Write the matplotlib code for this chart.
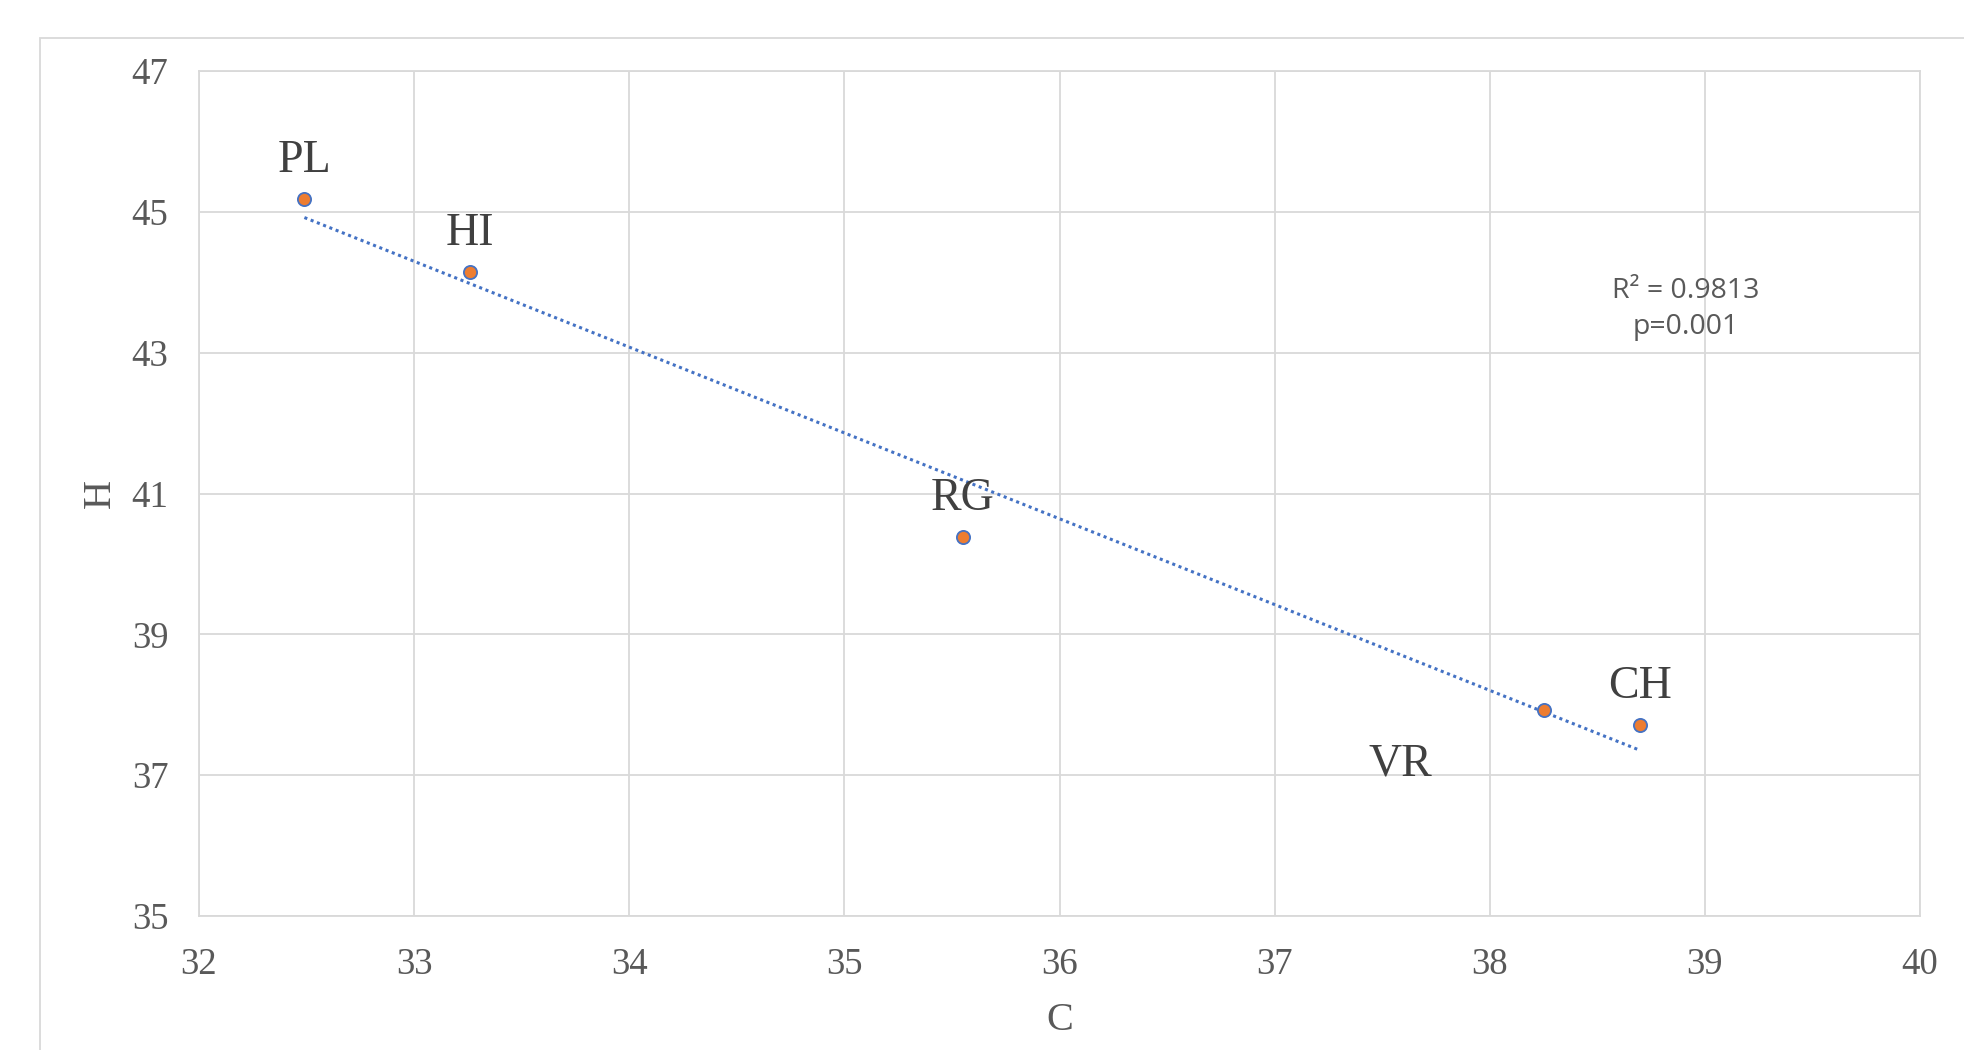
import numpy as np
import matplotlib
matplotlib.use("Agg")
import matplotlib.pyplot as plt
from matplotlib.patches import Rectangle

# values
sites = ["PL", "HI", "RG", "VR", "CH"]
c_vals = [32.49, 33.26, 35.55, 38.25, 38.70]
h_vals = [45.18, 44.15, 40.38, 37.92, 37.71]
x_ticks = [32, 33, 34, 35, 36, 37, 38, 39, 40]
y_ticks = [35, 37, 39, 41, 43, 45, 47]
stats_text = "R² = 0.9813\np=0.001"

grid_col = "#D9D9D9"
tick_col = "#595959"
serif = ["Liberation Serif", "DejaVu Serif"]

# label offsets in pixels (dx, dy) relative to the point
label_offsets = {"PL": (0, 38), "HI": (0, 38), "RG": (0, 38),
                 "VR": (-143, -54), "CH": (0, 38)}


def main():
    fig = plt.figure(figsize=(19.64, 10.5), dpi=100)
    ax = fig.add_axes([199 / 1964, 1 - 916 / 1050, (1920 - 199) / 1964, (916 - 71) / 1050])

    # outer chart frame
    fig.patches.append(Rectangle((40 / 1964, -0.1), 1.2, 1 - 37.5 / 1050 + 0.1,
                                 transform=fig.transFigure, fill=False,
                                 edgecolor=grid_col, linewidth=1.3))

    ax.set_xlim(32, 40)
    ax.set_ylim(35, 47)
    ax.set_xticks(x_ticks)
    ax.set_yticks(y_ticks)
    ax.grid(True, color=grid_col, linewidth=1.3)
    ax.set_axisbelow(True)
    for s in ax.spines.values():
        s.set_color(grid_col)
        s.set_linewidth(1.3)
    ax.tick_params(length=0, labelsize=26.5, labelcolor=tick_col)
    ax.tick_params(axis="x", pad=23)
    ax.tick_params(axis="y", pad=22)
    for lab in ax.get_xticklabels() + ax.get_yticklabels():
        lab.set_fontfamily(serif)

    # trend line
    x = np.array(c_vals)
    y = np.array(h_vals)
    k, b = np.polyfit(x, y, 1)
    xs = np.array([x.min(), x.max()])
    ax.plot(xs, k * xs + b, linestyle=(0, (1, 1.2)), color="#4472C4", linewidth=2.2, zorder=2)

    ax.plot(c_vals, h_vals, linestyle="none", marker="o", markersize=9.5,
            markerfacecolor="#ED7D31", markeredgecolor="#4472C4", markeredgewidth=1.3, zorder=3)

    for name, cx, hy in zip(sites, c_vals, h_vals):
        dx, dy = label_offsets[name]
        ax.annotate(name, (cx, hy), xytext=(dx * 0.72, dy * 0.72), textcoords="offset points",
                    ha="center", va="center", fontsize=33, color="#404040", family=serif)

    ax.text(38.91, 43.62, stats_text, ha="center", va="center", fontsize=20.5,
            color=tick_col, family=["Open Sans", "DejaVu Sans"], linespacing=1.4)

    ax.set_xlabel("C", fontsize=29, color=tick_col, family=serif, labelpad=14)
    ax.set_ylabel("H", fontsize=29, color=tick_col, family=serif, labelpad=9)

    fig.savefig("out.png", dpi=100)


if __name__ == "__main__":
    main()
